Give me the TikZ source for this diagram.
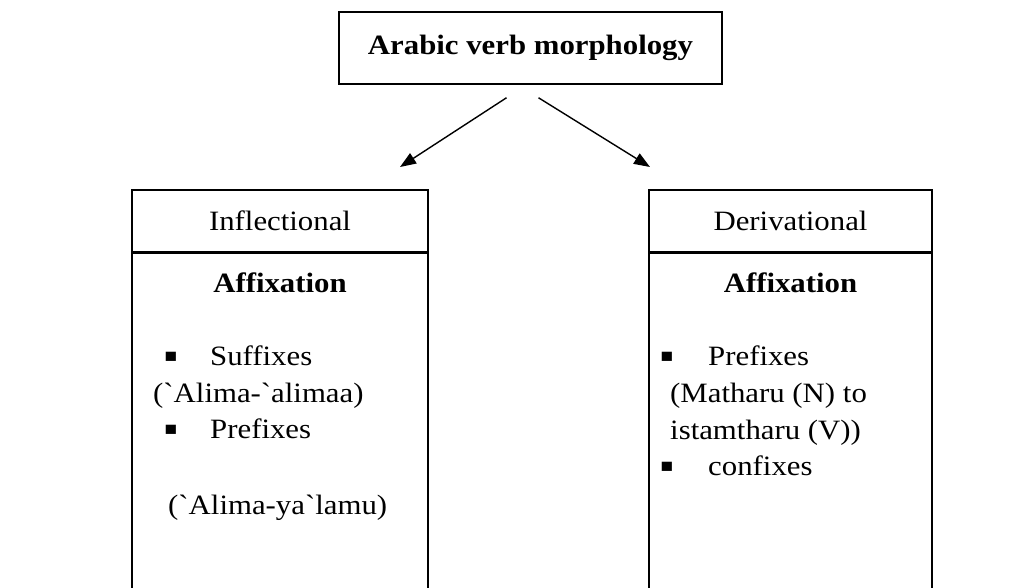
\documentclass[tikz,border=0pt]{standalone}
\usepackage{fontspec}
\setmainfont{Liberation Serif}[FakeStretch=1.1, Ligatures=TeXOff]
\usetikzlibrary{arrows.meta, positioning, calc}
\newcommand{\bigtext}{\fontsize{28}{34}\selectfont}
\tikzset{
  boxnode/.style={rectangle, draw=black, line width=1.5pt, inner sep=0pt,
    align=center, font=\bigtext},
  linetext/.style={anchor=base west, inner sep=0pt, font=\bigtext},
  headtext/.style={anchor=base, inner sep=0pt, font=\bigtext\bfseries},
  bulletmark/.style={inner sep=0pt, font=\fontsize{19}{19}\selectfont},
  flowarrow/.style={-{Triangle[length=16pt,width=12pt]}, line width=1.4pt}
}

\begin{document}
\begin{tikzpicture}[x=1pt, y=-1pt]
  \fill[white] (0,0) rectangle (1030,587);
  \useasboundingbox (0,0) rectangle (1030,587);

  % title
  \node[boxnode, minimum width=383pt, minimum height=72pt, font=\bigtext\bfseries]
    (title) at (530.5,48) {Arabic verb morphology};

  % the two branches
  \node[boxnode, minimum width=296pt, minimum height=62pt] (inflhead) at (280,221) {Inflectional};
  \node[boxnode, minimum width=296pt, minimum height=360pt, anchor=north]
    (inflbody) at (inflhead.south) {};
  \node[boxnode, minimum width=283pt, minimum height=62pt] (derivhead) at (790.5,221) {Derivational};
  \node[boxnode, minimum width=283pt, minimum height=360pt, anchor=north]
    (derivbody) at (derivhead.south) {};

  \coordinate (inflfrom) at ([shift={(-24,13)}]title.south);
  \coordinate (inflto) at (400,167);
  \coordinate (derivfrom) at ([shift={(8,13)}]title.south);
  \coordinate (derivto) at (650,167);
  \draw[flowarrow] (inflfrom) -- (inflto);
  \draw[flowarrow] (derivfrom) -- (derivto);

  % inflectional list
  \node[headtext] (inflaff) at (280,292) {Affixation};
  \node[bulletmark] (inflsufdot) at (171,357) {■};
  \node[linetext] (inflsuf) at (210,365) {Suffixes};
  \node[linetext] (inflsufex) at (153,402) {(`Alima-`alimaa)};
  \node[bulletmark] (inflpredot) at (171,430) {■};
  \node[linetext] (inflpre) at (210,438) {Prefixes};
  \node[linetext] (inflpreex) at (168,514) {(`Alima-ya`lamu)};

  % derivational list
  \node[headtext] (derivaff) at (790.5,292) {Affixation};
  \node[bulletmark] (derivpredot) at (667,357) {■};
  \node[linetext] (derivpre) at (708,365) {Prefixes};
  \node[linetext] (derivpreex) at (670,402) {(Matharu (N) to};
  \node[linetext] (derivpreex2) at (670,439) {istamtharu (V))};
  \node[bulletmark] (derivcondot) at (667,467) {■};
  \node[linetext] (derivcon) at (708,475) {confixes};
\end{tikzpicture}
\end{document}
